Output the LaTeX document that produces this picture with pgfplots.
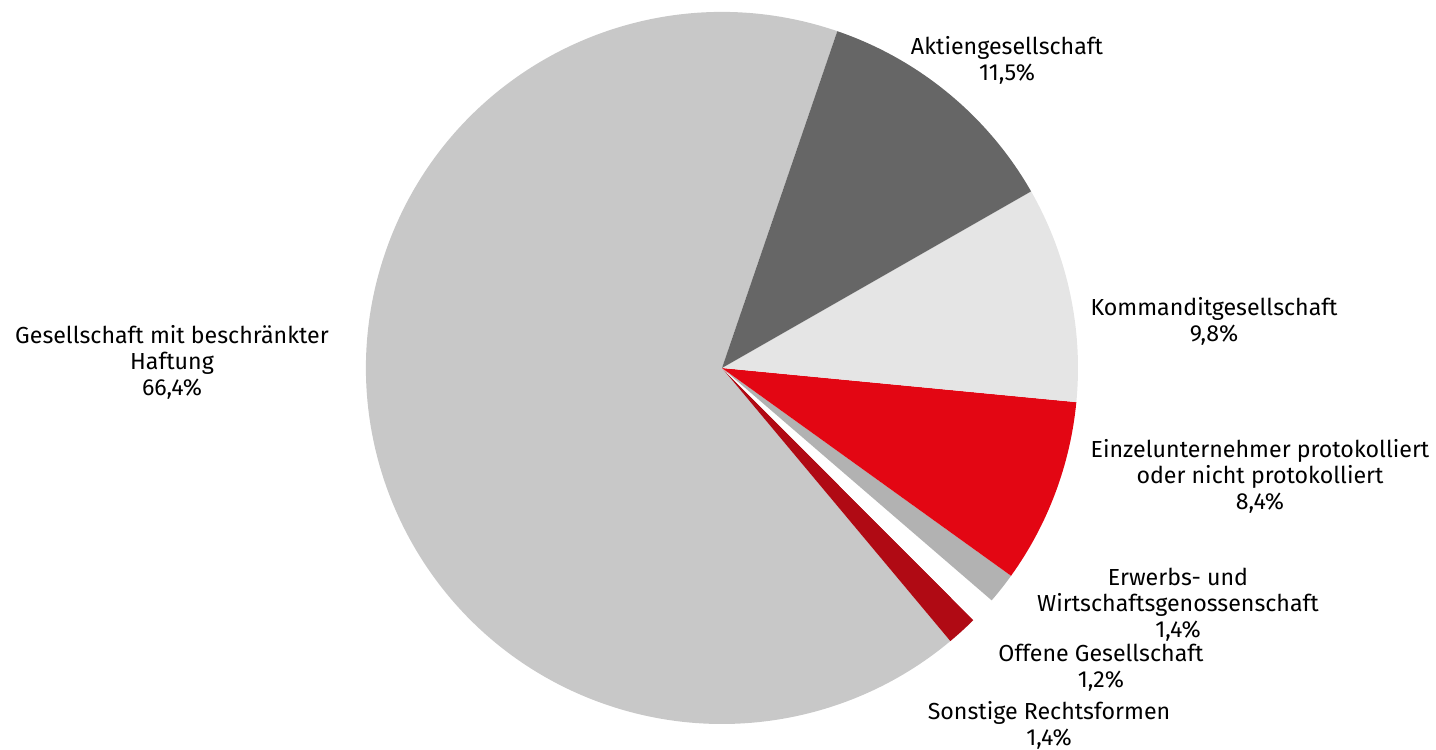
\documentclass[border=0pt]{standalone}
\usepackage{pgfplots}
\usepackage{pgfplotstable}
\usepackage{fontspec}
\pgfplotsset{compat=1.18}
\setmainfont{Fira Sans}

\definecolor{cGmbH}{HTML}{C8C8C8}
\definecolor{cSonst}{HTML}{B00A14}
\definecolor{cOffen}{HTML}{FFFFFF}
\definecolor{cErwerb}{HTML}{B2B2B2}
\definecolor{cEinzel}{HTML}{E30613}
\definecolor{cKommandit}{HTML}{E5E5E5}
\definecolor{cAktien}{HTML}{666666}

% slices counter-clockwise, starting at the top-right edge of the GmbH slice
\pgfplotstableread{
pct  col
66.4 cGmbH
1.4  cSonst
1.2  cOffen
1.4  cErwerb
8.4  cEinzel
9.8  cKommandit
11.5 cAktien
}\slices
\pgfplotstablecreatecol[create col/expr accum={\pgfmathaccuma+\thisrow{pct}}{0}]{cum}\slices

\begin{document}
\begin{tikzpicture}[lbl/.style={font=\fontsize{11.6}{13}\selectfont, align=center, inner sep=0pt}]
\begin{axis}[
    x=0.5pt, y=0.5pt,
    xmin=0, xmax=1436, ymin=0, ymax=750,
    hide axis, clip=false,
]
\pgfplotstablegetrowsof{\slices}
\pgfmathtruncatemacro\lastrow{\pgfplotsretval-1}
\pgfplotsforeachungrouped \i in {0,...,\lastrow}{
    \pgfplotstablegetelem{\i}{cum}\of\slices \let\cend\pgfplotsretval
    \pgfplotstablegetelem{\i}{pct}\of\slices \let\cpct\pgfplotsretval
    \pgfplotstablegetelem{\i}{col}\of\slices \let\ccol\pgfplotsretval
    % 360/100.1 degrees per percent (the shares add up to 100.1)
    \pgfmathsetmacro\aone{71.1+(\cend-\cpct)*3.5964}
    \pgfmathsetmacro\atwo{71.1+\cend*3.5964}
    \edef\tmp{\noexpand\fill[\ccol] (axis cs:722,382) -- ++(\aone:178pt)
        arc[start angle=\aone, end angle=\atwo, radius=178pt] -- cycle;}
    \tmp
}
\node[lbl] at (axis cs:172,388) {Gesellschaft mit beschränkter\\Haftung\\66,4\%};
\node[lbl] at (axis cs:1007,690) {Aktiengesellschaft\\11,5\%};
\node[lbl] at (axis cs:1214,429) {Kommanditgesellschaft\\9,8\%};
\node[lbl] at (axis cs:1260,274) {Einzelunternehmer protokolliert\\oder nicht protokolliert\\8,4\%};
\node[lbl] at (axis cs:1178,145) {Erwerbs- und\\Wirtschaftsgenossenschaft\\1,4\%};
\node[lbl] at (axis cs:1101,82) {Offene Gesellschaft\\1,2\%};
\node[lbl] at (axis cs:1049,25) {Sonstige Rechtsformen\\1,4\%};
\end{axis}
\pgfresetboundingbox
\path (0,0) rectangle (718pt,375pt);
\end{tikzpicture}
\end{document}
